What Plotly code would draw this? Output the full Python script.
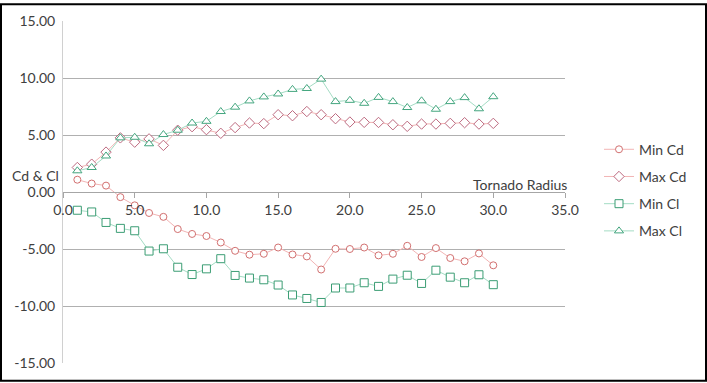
import plotly.graph_objects as go

radius = list(range(1, 31))

min_cd = [1.08, 0.74, 0.56, -0.45, -1.17, -1.84, -2.18, -3.25, -3.68, -3.86,
          -4.43, -5.16, -5.50, -5.42, -4.87, -5.48, -5.65, -6.80, -4.98, -5.00,
          -4.87, -5.56, -5.42, -4.72, -5.70, -4.92, -5.79, -6.08, -5.39, -6.43]
max_cd = [2.15, 2.44, 3.50, 4.75, 4.37, 4.66, 4.09, 5.42, 5.73, 5.47,
          5.15, 5.65, 6.05, 6.00, 6.78, 6.69, 7.06, 6.78, 6.43, 6.14,
          6.11, 6.10, 5.90, 5.76, 5.96, 5.96, 6.02, 6.08, 5.96, 6.02]
min_cl = [-1.60, -1.75, -2.67, -3.19, -3.40, -5.18, -4.98, -6.60, -7.24, -6.74,
          -5.85, -7.32, -7.55, -7.70, -8.16, -9.03, -9.34, -9.69, -8.42, -8.42,
          -7.96, -8.28, -7.64, -7.30, -8.02, -6.86, -7.47, -7.96, -7.26, -8.13]
max_cl = [1.86, 2.15, 3.16, 4.75, 4.80, 4.23, 5.04, 5.42, 6.05, 6.20,
          7.06, 7.44, 7.99, 8.34, 8.60, 9.00, 9.08, 9.90, 7.93, 8.04,
          7.78, 8.30, 7.93, 7.41, 8.00, 7.26, 7.93, 8.28, 7.30, 8.36]

x_ticks = [0, 5, 10, 15, 20, 25, 30, 35]
x_tick_labels = ["0.0", "5.0", "10.0", "15.0", "20.0", "25.0", "30.0", "35.0"]
y_ticks = [-15, -10, -5, 0, 5, 10, 15]
y_tick_labels = ["-15.00", "-10.00", "-5.00", "0.00", "5.00", "10.00", "15.00"]

series = [
    ("Min Cd", min_cd, "circle", 7, "#d27070", "#f2b4b4"),
    ("Max Cd", max_cd, "diamond", 8, "#bd6a80", "#f2b4b4"),
    ("Min Cl", min_cl, "square", 8, "#3b9d74", "#a4dcc4"),
    ("Max Cl", max_cl, "triangle-up", 8, "#44a67f", "#a4dcc4"),
]

fig = go.Figure()
for name, vals, sym, size, mcol, lcol in series:
    fig.add_trace(go.Scatter(
        x=radius, y=vals, name=name, mode="lines+markers",
        legendgroup=name,
        line=dict(color=lcol, width=1),
        marker=dict(symbol=sym, size=size, color="white",
                    line=dict(color=mcol, width=1)),
    ))

W, H = 707, 383
L, R, T, B = 63, 142, 18, 19
pw, ph = W - L - R, H - T - B
font_col = "#404040"

fig.update_layout(
    width=W, height=H,
    margin=dict(l=L, r=R, t=T, b=B),
    paper_bgcolor="white", plot_bgcolor="white",
    font=dict(family="Lato, Carlito, sans-serif", size=14, color=font_col),
    showlegend=True,
    legend=dict(x=(599 - L) / pw, xanchor="left",
                y=1 - (132 - T) / ph, yanchor="top",
                font=dict(size=14, color=font_col),
                tracegroupgap=6, bgcolor="rgba(0,0,0,0)"),
    xaxis=dict(range=[0, 35], tickvals=x_ticks, ticktext=x_tick_labels,
               anchor="free", position=0.5,
               showline=True, linecolor="#a6a6a6", linewidth=1,
               ticks="outside", ticklen=5, tickcolor="#a6a6a6",
               showgrid=False, zeroline=False,
               tickfont=dict(size=14, color=font_col)),
    yaxis=dict(range=[-15, 15], tickvals=y_ticks, ticktext=y_tick_labels,
               showline=True, linecolor="#d0d0d0", linewidth=1,
               showgrid=True, gridcolor="#b0b0b0", gridwidth=1,
               zeroline=False, ticks="", ticklabelstandoff=4,
               tickfont=dict(size=14, color=font_col)),
    annotations=[
        dict(text="Tornado Radius", xref="paper", yref="paper",
             x=(569 - L) / pw, y=1 - (183 - T) / ph, xanchor="right",
             yanchor="middle", showarrow=False,
             font=dict(size=14, color=font_col)),
        dict(text="Cd &amp; Cl", xref="paper", yref="paper",
             x=(61 - L) / pw, y=1 - (174 - T) / ph, xanchor="right",
             yanchor="middle", showarrow=False,
             font=dict(size=14, color=font_col)),
    ],
    shapes=[
        dict(type="rect", xref="paper", yref="paper",
             x0=-(L - 1) / pw, x1=1 + (R - 1) / pw,
             y0=-(B - 1) / ph, y1=1 + (T - 1) / ph,
             line=dict(color="black", width=2), fillcolor="rgba(0,0,0,0)",
             layer="above"),
    ],
)

fig.write_html("out.html",
               config={"displayModeBar": False},
               post_script="document.body.style.margin='0';document.body.style.overflow='hidden';")
